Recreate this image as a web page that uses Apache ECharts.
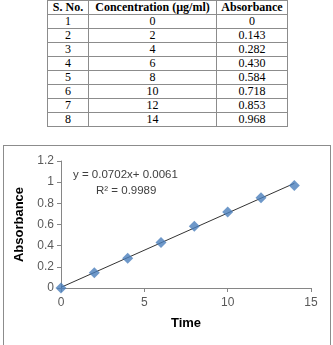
<!DOCTYPE html>
<html>
<head>
<meta charset="utf-8">
<script src="https://cdn.jsdelivr.net/npm/echarts@6/dist/echarts.min.js"></script>
<style>
  html, body { margin: 0; padding: 0; background: #fff; }
  #wrap { position: relative; width: 333px; height: 345px; overflow: hidden; }
  #tbl {
    position: absolute; left: 47px; top: 0px; width: 241px;
    border-collapse: collapse; font-family: "Liberation Serif", serif; font-size: 12px; color: #000;
  }
  #tbl td, #tbl th { border: 1px solid #8c8c8c; text-align: center; padding: 0; height: 13px; line-height: 13px; }
  #tbl th { font-weight: bold; }
  #frame { position: absolute; left: 3px; top: 145px; width: 326px; height: 220px; border: 1px solid #8c8c8c; }
  #main { position: absolute; left: 0; top: 0; width: 333px; height: 345px; }
</style>
</head>
<body>
<div id="wrap">
  <table id="tbl"></table>
  <div id="frame"></div>
  <div id="main"></div>
</div>
<script>
// 表格和图表数据
const headers = ['S. No.', 'Concentration (µg/ml)', 'Absorbance']
const serialNo = [1, 2, 3, 4, 5, 6, 7, 8]
const concentration = [0, 2, 4, 6, 8, 10, 12, 14]
const absorbanceText = ['0', '0.143', '0.282', '0.430', '0.584', '0.718', '0.853', '0.968']
const absorbance = [0, 0.143, 0.282, 0.430, 0.584, 0.718, 0.853, 0.968]
const trendLine = [[0, 0.0061], [14, 0.9889]]
const equation = 'y = 0.0702x+ 0.0061'
const rSquared = 'R² = 0.9989'

// 表格
const tbl = document.getElementById('tbl')
let html = '<tr>' + headers.map(h => '<th>' + h + '</th>').join('') + '</tr>'
serialNo.forEach((n, i) => {
  html += '<tr><td style="width:40px">' + n + '</td><td style="width:127px">' + concentration[i] +
    '</td><td>' + absorbanceText[i] + '</td></tr>'
})
tbl.innerHTML = html

const myChart = echarts.init(document.getElementById('main'))
const labelFont = { color: '#595959', fontSize: 12, fontFamily: 'Liberation Sans' }
const nameFont = { color: '#000', fontSize: 13, fontWeight: 'bold', fontFamily: 'Liberation Sans' }

const option = {
  animation: false,
  grid: { left: 61, right: 22, top: 161, bottom: 57 },
  xAxis: {
    type: 'value',
    min: 0, max: 15, interval: 5,
    name: 'Time',
    nameLocation: 'middle',
    nameGap: 29,
    nameTextStyle: nameFont,
    axisLine: { lineStyle: { color: '#868686' } },
    axisTick: { show: true, length: 4, lineStyle: { color: '#868686' } },
    axisLabel: Object.assign({ margin: 9 }, labelFont),
    splitLine: { show: false }
  },
  yAxis: {
    type: 'value',
    min: 0, max: 1.2, interval: 0.2,
    name: 'Absorbance',
    nameLocation: 'middle',
    nameGap: 28,
    nameTextStyle: nameFont,
    axisLine: { show: true, lineStyle: { color: '#868686' } },
    axisTick: { show: true, length: 4, lineStyle: { color: '#868686' } },
    axisLabel: Object.assign({ margin: 7 }, labelFont),
    splitLine: { show: false }
  },
  graphic: [
    { type: 'text', left: 73, top: 169, style: { text: equation, fill: '#404040', font: '11.5px "Liberation Sans"' } },
    { type: 'text', left: 96, top: 185, style: { text: rSquared, fill: '#404040', font: '11.5px "Liberation Sans"' } }
  ],
  series: [
    {
      type: 'line',
      data: trendLine,
      symbol: 'none',
      lineStyle: { color: '#333', width: 1 },
      z: 1
    },
    {
      type: 'scatter',
      data: concentration.map((x, i) => [x, absorbance[i]]),
      symbol: 'diamond',
      symbolSize: 11,
      itemStyle: { color: '#4a7ebb' },
      z: 2
    }
  ]
}

myChart.setOption(option)
</script>
</body>
</html>
